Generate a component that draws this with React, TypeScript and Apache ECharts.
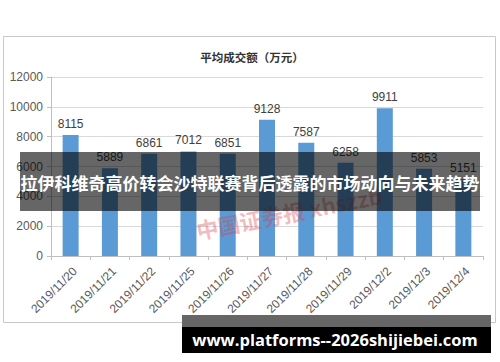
import React, { useEffect, useRef } from "react";
import * as echarts from "echarts";

const categories = [
  "2019/11/20", "2019/11/21", "2019/11/22", "2019/11/25", "2019/11/26", "2019/11/27",
  "2019/11/28", "2019/11/29", "2019/12/2", "2019/12/3", "2019/12/4",
];
const values = [8115, 5889, 6861, 7012, 6851, 9128, 7587, 6258, 9911, 5853, 5151];
const chartTitle = "平均成交额（万元）";
const bannerText = "拉伊科维奇高价转会沙特联赛背后透露的市场动向与未来趋势";
const watermarkText = "中国证券报 xhszzb";
const footerText = "www.platforms--2026shijiebei.com";
const yMax = 12000;
const yStep = 2000;

export default function App() {
  const ref = useRef<HTMLDivElement>(null);
  useEffect(() => {
    if (!ref.current) return;
    const chart = echarts.init(ref.current, null, { renderer: "svg" });
    const font = "'Liberation Sans', Arial, sans-serif";
    chart.setOption({
      animation: false,
      backgroundColor: "#ffffff",
      title: {
        text: chartTitle,
        left: 247,
        top: 46,
        textAlign: "center",
        textStyle: { fontSize: 11.5, fontWeight: "bold", color: "#333333", fontFamily: "'Noto Sans CJK SC', sans-serif" },
      },
      grid: { left: 51, right: 17, top: 77, bottom: 106, containLabel: false },
      xAxis: {
        type: "category",
        data: categories,
        boundaryGap: true,
        axisLine: { lineStyle: { color: "#bfbfbf", width: 1 } },
        axisTick: { show: true, length: 4, lineStyle: { color: "#bfbfbf" } },
        axisLabel: {
          rotate: 45,
          fontSize: 12,
          color: "#595959",
          margin: 9,
          verticalAlign: "top",
          fontFamily: font,
          interval: 0,
        },
      },
      yAxis: {
        type: "value",
        min: 0,
        max: yMax,
        interval: yStep,
        axisLine: { show: true, lineStyle: { color: "#bfbfbf" } },
        axisTick: { show: true, length: 4, lineStyle: { color: "#bfbfbf" } },
        axisLabel: {
          fontSize: 12,
          color: "#595959",
          margin: 8,
          fontFamily: font,
          formatter: (v: number) => String(v),
        },
        splitLine: { lineStyle: { color: "#d9d9d9" } },
      },
      series: [
        {
          type: "bar",
          data: values,
          barWidth: 16,
          itemStyle: { color: "#5B9BD5" },
          label: { show: true, position: "top", distance: 5, fontSize: 12, color: "#404040", fontFamily: font },
          z: 2,
        },
      ],
      graphic: [
        {
          type: "rect",
          shape: { x: 3.5, y: 36.5, width: 492, height: 286 },
          style: { fill: "none", stroke: "#c8c8c8", lineWidth: 1 },
          z: 0,
          silent: true,
        },
        {
          type: "text",
          x: 289,
          y: 212,
          rotation: (11 * Math.PI) / 180,
          z: 50,
          style: {
            text: watermarkText,
            fill: "rgba(215,60,70,0.35)",
            font: "bold 22px 'Noto Sans CJK SC', sans-serif",
            textAlign: "center",
            textVerticalAlign: "middle",
          },
        },
        {
          type: "rect",
          shape: { x: 20, y: 152, width: 460, height: 59 },
          style: { fill: "rgba(0,0,0,0.6)" },
          z: 100,
        },
        {
          type: "text",
          x: 250,
          y: 182,
          z: 101,
          style: {
            text: bannerText,
            fill: "#ffffff",
            font: "bold 17px 'Noto Sans CJK SC', sans-serif",
            textAlign: "center",
            textVerticalAlign: "middle",
          },
        },
        {
          type: "rect",
          shape: { x: 182, y: 315, width: 309, height: 12 },
          style: { fill: "#666666" },
          z: 100,
        },
        {
          type: "rect",
          shape: { x: 182, y: 327, width: 309, height: 26 },
          style: { fill: "#000000" },
          z: 100,
        },
        {
          type: "text",
          x: 335,
          y: 339,
          z: 101,
          style: {
            text: footerText,
            fill: "#ffffff",
            font: "bold 16.5px 'Open Sans', sans-serif",
            textAlign: "center",
            textVerticalAlign: "middle",
          },
        },
      ],
    });
    return () => chart.dispose();
  }, []);
  return (
    <div
      ref={ref}
      style={{ position: "absolute", left: 0, top: 0, width: 500, height: 362 }}
    />
  );
}
